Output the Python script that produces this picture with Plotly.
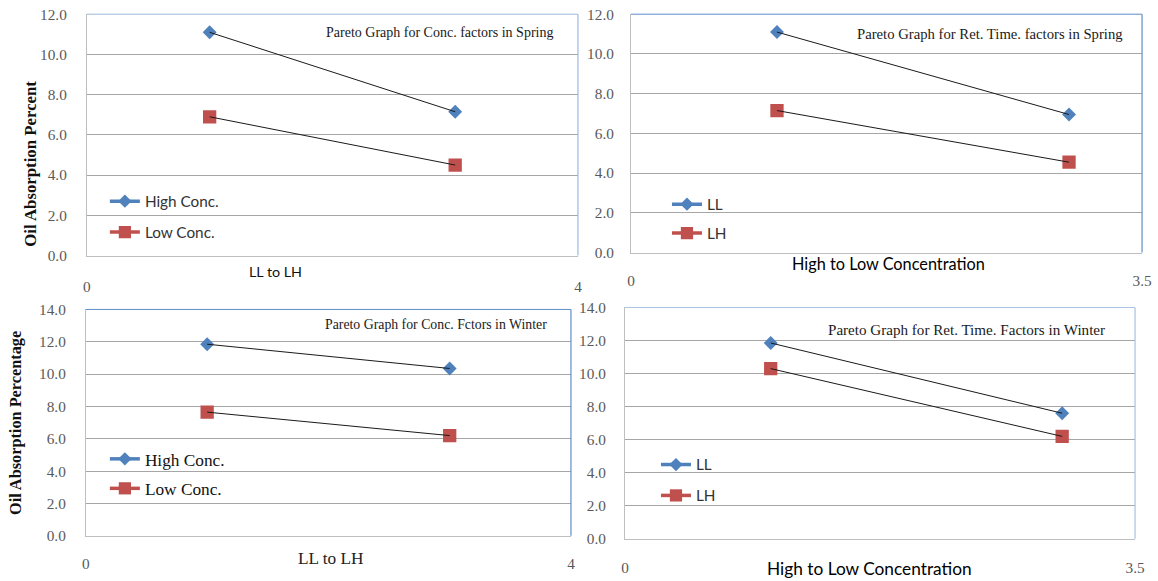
import plotly.graph_objects as go

W, H = 1158, 581
# The photographed page is offset and rescaled slightly, so reference pixel
# positions are mapped into figure pixels with these (measured) factors.
AX, BX = 1.0124, 5.2
AY, BY = 1.0275, 8.0
K = (AX + AY) / 2  # size compensation for fonts / markers

# ---------------- data ----------------
x_positions = [1, 3]

spring_conc_high = [11.1, 7.15]
spring_conc_low = [6.9, 4.5]
spring_ret_ll = [11.1, 6.95]
spring_ret_lh = [7.15, 4.55]
winter_conc_high = [11.85, 10.35]
winter_conc_low = [7.65, 6.2]
winter_ret_ll = [11.85, 7.6]
winter_ret_lh = [10.3, 6.2]

conc_x_ticks = [0, 4]
conc_x_ticktext = ["0", "4"]
ret_x_ticks = [0, 3.5]
ret_x_ticktext = ["0", "3.5"]

titles = [
    "Pareto Graph for Conc. factors in Spring",
    "Pareto Graph for Ret. Time. factors in Spring",
    "Pareto Graph for Conc. Fctors in Winter",
    "Pareto Graph for Ret. Time. Factors in Winter",
]
x_titles = ["LL to LH", "High to Low Concentration", "LL to LH", "High to Low Concentration"]
y_titles = ["Oil Absorption Percent", "Oil Absorption Percentage"]

BLUE = "#4F81BD"
RED = "#C0504D"
SERIF = "Liberation Serif, Times New Roman, serif"
SANS = "Lato, Carlito, Calibri, sans-serif"


def px(x):
    return (x * AX - BX) / W


def py(y):
    return 1 - (y * AY - BY) / H


def fs(s):
    return round(s * K, 1)


# panel pixel boxes in reference coordinates: (left, top, right, bottom)
panels = [
    dict(box=(88, 13, 579, 255), xr=[0, 4], yr=[0, 12], xt=conc_x_ticks, xtt=conc_x_ticktext,
         series=[("High Conc.", spring_conc_high, BLUE, "diamond"), ("Low Conc.", spring_conc_low, RED, "square")],
         legend=dict(x=106, y=184, font=dict(family=SANS, size=fs(15), color="#333333"), gap=8),
         title_xy=(556, 31), title_size=13.7,
         xtitle_xy=(277, 271), xtitle_font=dict(family=SANS, size=fs(14), color="#111111"),
         xstand=17, ystand=16, border="#9db9dd"),
    dict(box=(632, 13, 1143, 252), xr=[0, 3.5], yr=[0, 12], xt=ret_x_ticks, xtt=ret_x_ticktext,
         series=[("LL", spring_ret_ll, BLUE, "diamond"), ("LH", spring_ret_lh, RED, "square")],
         legend=dict(x=668, y=187, font=dict(family=SANS, size=fs(15), color="#333333"), gap=6),
         title_xy=(1126, 33), title_size=14.4,
         xtitle_xy=(889, 263), xtitle_font=dict(family=SANS, size=fs(16), color="#000000"),
         xstand=14, ystand=13, border="#5f8cc8"),
    dict(box=(87, 309, 572, 536), xr=[0, 4], yr=[0, 14], xt=conc_x_ticks, xtt=conc_x_ticktext,
         series=[("High Conc.", winter_conc_high, BLUE, "diamond"), ("Low Conc.", winter_conc_low, RED, "square")],
         legend=dict(x=106, y=441, font=dict(family=SERIF, size=fs(17), color="#111111"), gap=4),
         title_xy=(550, 324), title_size=13.5,
         xtitle_xy=(332, 559), xtitle_font=dict(family=SERIF, size=fs(17), color="#222222"),
         xstand=14, ystand=16, border="#5f8cc8"),
    dict(box=(626, 307, 1136, 539), xr=[0, 3.5], yr=[0, 14], xt=ret_x_ticks, xtt=ret_x_ticktext,
         series=[("LL", winter_ret_ll, BLUE, "diamond"), ("LH", winter_ret_lh, RED, "square")],
         legend=dict(x=657, y=448, font=dict(family=SANS, size=fs(15), color="#333333"), gap=8),
         title_xy=(1108, 330), title_size=14.8,
         xtitle_xy=(870, 569), xtitle_font=dict(family=SANS, size=fs(17), color="#000000"),
         xstand=15, ystand=15, border="#a9c1e2"),
]

fig = go.Figure()
layout_updates = {}
annotations = []
shapes = []

for i, p in enumerate(panels):
    n = i + 1
    sfx = "" if n == 1 else str(n)
    xa, ya = "x" + sfx, "y" + sfx
    leg = "legend" + sfx
    l, t, r, b = p["box"]

    # markers first, then the thin black connecting lines on top
    for name, vals, col, sym in p["series"]:
        fig.add_trace(go.Scatter(
            x=x_positions, y=vals, mode="markers", xaxis=xa, yaxis=ya, showlegend=False,
            marker=dict(symbol=sym, color=col, size=fs(10.5) if sym == "diamond" else fs(13),
                        line=dict(width=0)), hoverinfo="skip"))
    for name, vals, col, sym in p["series"]:
        fig.add_trace(go.Scatter(
            x=x_positions, y=vals, mode="lines", xaxis=xa, yaxis=ya, showlegend=False,
            line=dict(color="#1a1a1a", width=1), hoverinfo="skip"))
    # legend entries (Excel-style thick coloured line with marker)
    for k, (name, vals, col, sym) in enumerate(p["series"]):
        fig.add_trace(go.Scatter(
            x=[None], y=[None], mode="lines+markers", name=name, xaxis=xa, yaxis=ya,
            legend=leg, legendgroup=f"{n}-{k}",
            line=dict(color=col, width=3.5),
            marker=dict(symbol=sym, color=col, size=fs(10) if sym == "diamond" else fs(12))))

    layout_updates["xaxis" + sfx] = dict(
        domain=[px(l), px(r)], anchor=ya, range=p["xr"], tickvals=p["xt"], ticktext=p["xtt"],
        showgrid=False, zeroline=False, showline=True, linecolor="#bfbfbf", linewidth=1,
        ticks="", ticklabelstandoff=p["xstand"],
        tickfont=dict(family=SERIF, size=fs(15), color="#595959"), fixedrange=True)
    layout_updates["yaxis" + sfx] = dict(
        domain=[py(b), py(t)], anchor=xa, range=p["yr"], dtick=2, tickformat=".1f",
        showgrid=True, gridcolor="#a6a6a6", gridwidth=1, zeroline=False,
        showline=True, linecolor="#bfbfbf", linewidth=1, ticks="", ticklabelstandoff=p["ystand"],
        tickfont=dict(family=SERIF, size=fs(15), color="#595959"), fixedrange=True)

    lg = p["legend"]
    layout_updates[leg] = dict(
        x=px(lg["x"]), y=py(lg["y"]), xanchor="left", yanchor="top", xref="paper", yref="paper",
        bgcolor="rgba(0,0,0,0)", font=lg["font"], tracegroupgap=lg["gap"], traceorder="grouped",
        itemclick=False, itemdoubleclick=False)

    # plot-area top and right border (light blue)
    shapes.append(dict(type="line", xref="paper", yref="paper", x0=px(l), x1=px(r), y0=py(t), y1=py(t),
                       line=dict(color=p["border"], width=1)))
    shapes.append(dict(type="line", xref="paper", yref="paper", x0=px(r), x1=px(r), y0=py(t), y1=py(b),
                       line=dict(color=p["border"], width=1.2)))

    tx, ty = p["title_xy"]
    annotations.append(dict(text=titles[i], x=px(tx), y=py(ty), xref="paper", yref="paper",
                            xanchor="right", yanchor="middle", showarrow=False,
                            font=dict(family=SERIF, size=fs(p["title_size"]), color="#1a1a1a")))
    gx, gy = p["xtitle_xy"]
    annotations.append(dict(text=x_titles[i], x=px(gx), y=py(gy), xref="paper", yref="paper",
                            xanchor="center", yanchor="middle", showarrow=False, font=p["xtitle_font"]))

annotations.append(dict(text="<b>" + y_titles[0] + "</b>", x=px(32), y=py(163), xref="paper", yref="paper",
                        textangle=-90, showarrow=False, xanchor="center", yanchor="middle",
                        font=dict(family=SERIF, size=fs(16.5), color="#111111")))
annotations.append(dict(text="<b>" + y_titles[1] + "</b>", x=px(16), y=py(423), xref="paper", yref="paper",
                        textangle=-90, showarrow=False, xanchor="center", yanchor="middle",
                        font=dict(family=SERIF, size=fs(16), color="#111111")))

fig.update_layout(
    width=W, height=H, margin=dict(l=0, r=0, t=0, b=0),
    paper_bgcolor="white", plot_bgcolor="white",
    annotations=annotations, shapes=shapes, hovermode=False,
    **layout_updates)

fig.write_html("out.html", config={"displayModeBar": False})
